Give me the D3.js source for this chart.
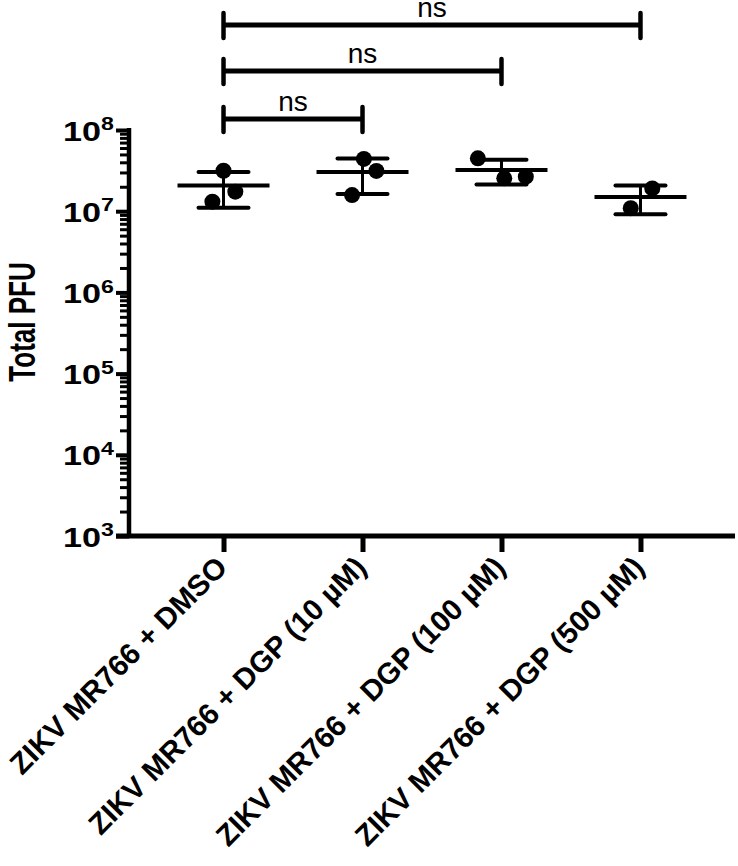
<!DOCTYPE html>
<html>
<head>
<meta charset="utf-8">
<script src="https://cdn.jsdelivr.net/npm/d3@7"></script>
<style>
  html, body { margin: 0; padding: 0; background: #fff; }
  svg { display: block; }
  text { font-family: "Liberation Sans", Arial, sans-serif; fill: #000; }
</style>
</head>
<body>
<script>
// ---------------- data ----------------
const categories = [
  "ZIKV MR766 + DMSO",
  "ZIKV MR766 + DGP (10 µM)",
  "ZIKV MR766 + DGP (100 µM)",
  "ZIKV MR766 + DGP (500 µM)"
];
const dmsoPFU   = [3.15e7, 1.74e7, 1.31e7];
const dgp10PFU  = [4.40e7, 3.13e7, 1.58e7];
const dgp100PFU = [4.48e7, 2.54e7, 2.66e7];
const dgp500PFU = [1.91e7, 1.09e7];
// horizontal scatter of replicate dots (fraction of category step)
const dmsoJitter   = [0.0, 0.085, -0.08];
const dgp10Jitter  = [0.01, 0.10, -0.075];
const dgp100Jitter = [-0.17, 0.02, 0.175];
const dgp500Jitter = [0.085, -0.07];
const yTickExponents = [3, 4, 5, 6, 7, 8];
const comparisons = [   // [from, to, label]
  [0, 3, "ns"],
  [0, 2, "ns"],
  [0, 1, "ns"]
];
const yLabel = "Total PFU";

const groups = [dmsoPFU, dgp10PFU, dgp100PFU, dgp500PFU];
const jitters = [dmsoJitter, dgp10Jitter, dgp100Jitter, dgp500Jitter];

// ---------------- layout ----------------
const W = 738, H = 866;
const axisX = 129, axisRight = 735;
const yTop = 130, yBottom = 536;

const svg = d3.select("body").append("svg")
  .attr("width", W).attr("height", H);

const x = d3.scalePoint().domain(categories).range([axisX, axisRight]).padding(0.68);
const y = d3.scaleLog().domain([1e3, 1e8]).range([yBottom, yTop]);

// minor + major ticks
const minorVals = [];
yTickExponents.forEach(e => {
  if (e < 8) for (let m = 2; m <= 9; m++) minorVals.push(m * Math.pow(10, e));
});
const majorVals = yTickExponents.map(e => Math.pow(10, e));

// ---------------- y axis ----------------
const yAxisG = svg.append("g").attr("transform", `translate(${axisX},0)`);
yAxisG.call(d3.axisLeft(y).tickValues(minorVals).tickSize(9).tickFormat(""))
  .call(g => g.select(".domain").remove())
  .call(g => g.selectAll(".tick line").attr("stroke", "#000").attr("stroke-width", 3));
const yMajG = svg.append("g").attr("transform", `translate(${axisX},0)`);
yMajG.call(d3.axisLeft(y).tickValues(majorVals).tickSize(13).tickFormat(""))
  .call(g => g.select(".domain").remove())
  .call(g => g.selectAll(".tick line").attr("stroke", "#000").attr("stroke-width", 4));
yMajG.selectAll(".tick").each(function(d) {
  const t = d3.select(this).select("text")
    .attr("x", 0).attr("dy", "0.36em")
    .attr("transform", "translate(-15,0) scale(1.22,1)")
    .attr("text-anchor", "end")
    .style("font-size", "28px").style("font-weight", "bold");
  t.selectAll("*").remove();
  t.text(null);
  t.append("tspan").text("10");
  t.append("tspan").attr("dy", "-0.55em").style("font-size", "19px")
    .text(Math.round(Math.log10(d)));
});
// y axis line
svg.append("line")
  .attr("x1", axisX).attr("x2", axisX)
  .attr("y1", y(1e8) - 2).attr("y2", y(1e3))
  .attr("stroke", "#000").attr("stroke-width", 4.5);

// ---------------- x axis ----------------
const xAxisG = svg.append("g").attr("transform", `translate(0,${yBottom})`);
xAxisG.call(d3.axisBottom(x).tickSize(16).tickPadding(10))
  .call(g => g.select(".domain").remove())
  .call(g => g.selectAll(".tick line").attr("stroke", "#000").attr("stroke-width", 5));
xAxisG.selectAll(".tick text")
  .attr("text-anchor", "end")
  .attr("x", 0).attr("y", 0).attr("dy", 0)
  .attr("transform", "translate(5,33) rotate(-45)")
  .style("font-size", "29.5px").style("font-weight", "bold");
svg.append("line")
  .attr("x1", axisX - 13).attr("x2", axisRight)
  .attr("y1", yBottom).attr("y2", yBottom)
  .attr("stroke", "#000").attr("stroke-width", 5);

// y label
svg.append("text")
  .attr("transform", `translate(35,${(yTop + yBottom) / 2 - 11}) scale(1.4,1) rotate(-90)`)
  .attr("text-anchor", "middle")
  .style("font-size", "26px").style("font-weight", "bold")
  .text(yLabel);

// ---------------- data marks ----------------
const step = x.step();
groups.forEach((vals, i) => {
  const cx = x(categories[i]);
  const mean = d3.mean(vals);
  const sd = d3.deviation(vals);
  const g = svg.append("g");
  // dots
  g.selectAll("circle").data(vals).join("circle")
    .attr("cx", (d, j) => cx + jitters[i][j] * step)
    .attr("cy", d => y(d))
    .attr("r", 8)
    .attr("fill", "#000");
  // error bar
  g.append("line")
    .attr("x1", cx).attr("x2", cx)
    .attr("y1", y(mean + sd)).attr("y2", y(mean - sd))
    .attr("stroke", "#000").attr("stroke-width", 3);
  [mean + sd, mean - sd].forEach(v => {
    g.append("line")
      .attr("x1", cx - 25).attr("x2", cx + 25)
      .attr("y1", y(v)).attr("y2", y(v))
      .attr("stroke", "#000").attr("stroke-width", 4).attr("stroke-linecap", "round");
  });
  g.append("line")
    .attr("x1", cx - 46).attr("x2", cx + 46)
    .attr("y1", y(mean)).attr("y2", y(mean))
    .attr("stroke", "#000").attr("stroke-width", 4);
});

// ---------------- significance brackets ----------------
const bracketY = [25, 71, 119];
comparisons.forEach((c, i) => {
  const x1 = x(categories[c[0]]), x2 = x(categories[c[1]]);
  const by = bracketY[i];
  const g = svg.append("g");
  g.append("line").attr("x1", x1).attr("x2", x2).attr("y1", by).attr("y2", by)
    .attr("stroke", "#000").attr("stroke-width", 5);
  [x1, x2].forEach(xx => {
    g.append("line").attr("x1", xx).attr("x2", xx).attr("y1", by - 12).attr("y2", by + 13)
      .attr("stroke", "#000").attr("stroke-width", 4.5).attr("stroke-linecap", "round");
  });
  g.append("text").attr("x", (x1 + x2) / 2).attr("y", by - 8)
    .attr("text-anchor", "middle")
    .style("font-size", "28px")
    .text(c[2]);
});
</script>
</body>
</html>
